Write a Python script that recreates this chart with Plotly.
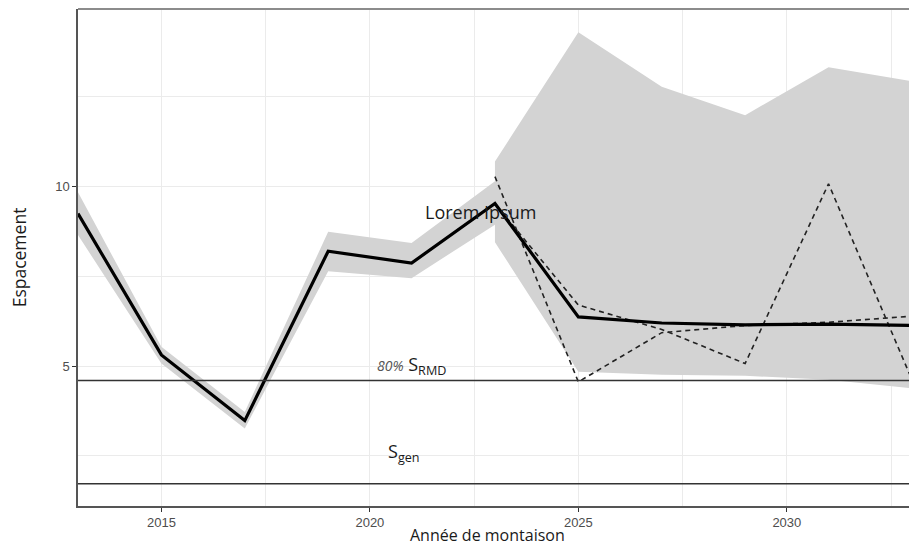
import plotly.graph_objects as go

# Historical estimates (every second year) with their uncertainty ribbon
years_hist = [2013, 2015, 2017, 2019, 2021, 2023]
mean_hist = [9.25, 5.31, 3.48, 8.20, 7.87, 9.53]
low_hist = [8.65, 5.07, 3.26, 7.64, 7.45, 8.94]
high_hist = [9.84, 5.54, 3.72, 8.74, 8.43, 10.15]

# Projections from 2023 onward
years_proj = [2023, 2025, 2027, 2029, 2031, 2033]
mean_proj = [9.53, 6.37, 6.20, 6.15, 6.17, 6.13]
low_proj = [8.45, 4.84, 4.76, 4.73, 4.62, 4.38]
high_proj = [10.70, 14.30, 12.78, 11.99, 13.33, 12.94]

# Two example simulated trajectories
traj_a = [10.28, 4.56, 5.93, 6.13, 6.22, 6.39]
traj_b = [9.53, 6.70, 6.02, 5.07, 10.08, 4.62]

# Reference levels
s_rmd80 = 4.60
s_gen = 1.72

x_ticks = [2015, 2020, 2025, 2030]
y_ticks = [5, 10]

band_color = "#d3d3d3"

fig = go.Figure()


def ribbon(xs, lo, hi):
    fig.add_trace(go.Scatter(
        x=list(xs) + list(xs)[::-1],
        y=list(hi) + list(lo)[::-1],
        fill="toself", fillcolor=band_color,
        line=dict(width=0), mode="lines",
        hoverinfo="skip", showlegend=False,
    ))


ribbon(years_hist, low_hist, high_hist)
ribbon(years_proj, low_proj, high_proj)

for level in (s_rmd80, s_gen):
    fig.add_hline(y=level, line=dict(color="#333333", width=1.5), layer="above")

for traj in (traj_a, traj_b):
    fig.add_trace(go.Scatter(
        x=years_proj, y=traj, mode="lines",
        line=dict(color="#222222", width=1.6, dash="5px,4px"),
        showlegend=False,
    ))

fig.add_trace(go.Scatter(
    x=years_hist + years_proj[1:], y=mean_hist + mean_proj[1:], mode="lines",
    line=dict(color="#000000", width=3.2),
    showlegend=False,
))

label_font = "Open Sans"

fig.add_annotation(
    x=2022.66, y=9.29, xref="x", yref="y", text="Lorem Ipsum",
    showarrow=False, font=dict(family=label_font, size=18, color="#1a1a1a"),
)
fig.add_annotation(
    x=2021.0, y=5.02, xref="x", yref="y",
    text="<span style='color:#555555;font-size:14px'><i>80%</i></span> "
         "S<sub>RMD</sub>",
    showarrow=False, font=dict(family=label_font, size=18, color="#1a1a1a"),
)
fig.add_annotation(
    x=2020.82, y=2.58, xref="x", yref="y", text="S<sub>gen</sub>",
    showarrow=False, font=dict(family=label_font, size=18, color="#1a1a1a"),
)

# x-axis title, anchored to the bottom edge of the page
fig.add_annotation(
    x=0.5, y=0, xref="paper", yref="paper", yanchor="bottom",
    xshift=-6, yshift=-41,
    borderpad=0, text="Année de montaison", showarrow=False,
    font=dict(family=label_font, size=16, color="#1a1a1a"),
)

# Top panel border
fig.add_shape(type="line", xref="paper", yref="paper", x0=0, x1=1, y0=1, y1=1,
              line=dict(color="#8c8c8c", width=2))

axis_common = dict(
    showgrid=True, gridcolor="#ebebeb", gridwidth=1,
    zeroline=False, showline=True, linecolor="#555555", linewidth=1.5,
    ticks="outside", ticklen=4, tickcolor="#333333", tickwidth=1,
    tickfont=dict(family="Liberation Sans", size=13, color="#4d4d4d"),
)

fig.update_xaxes(
    range=[2013.0, 2032.93], tickvals=x_ticks,
    minor=dict(dtick=2.5, tick0=2015, showgrid=True, gridcolor="#ebebeb", gridwidth=1),
    **axis_common,
)
fig.update_yaxes(
    range=[1.1, 14.95], tickvals=y_ticks,
    minor=dict(dtick=2.5, tick0=0, showgrid=True, gridcolor="#ebebeb", gridwidth=1),
    title=dict(text="Espacement", standoff=24,
               font=dict(family=label_font, size=17.5, color="#1a1a1a")),
    **axis_common,
)

fig.update_layout(
    width=909, height=548,
    margin=dict(l=78, r=0, t=9, b=42),
    plot_bgcolor="white", paper_bgcolor="white",
    showlegend=False,
)

fig.write_html("out.html")
